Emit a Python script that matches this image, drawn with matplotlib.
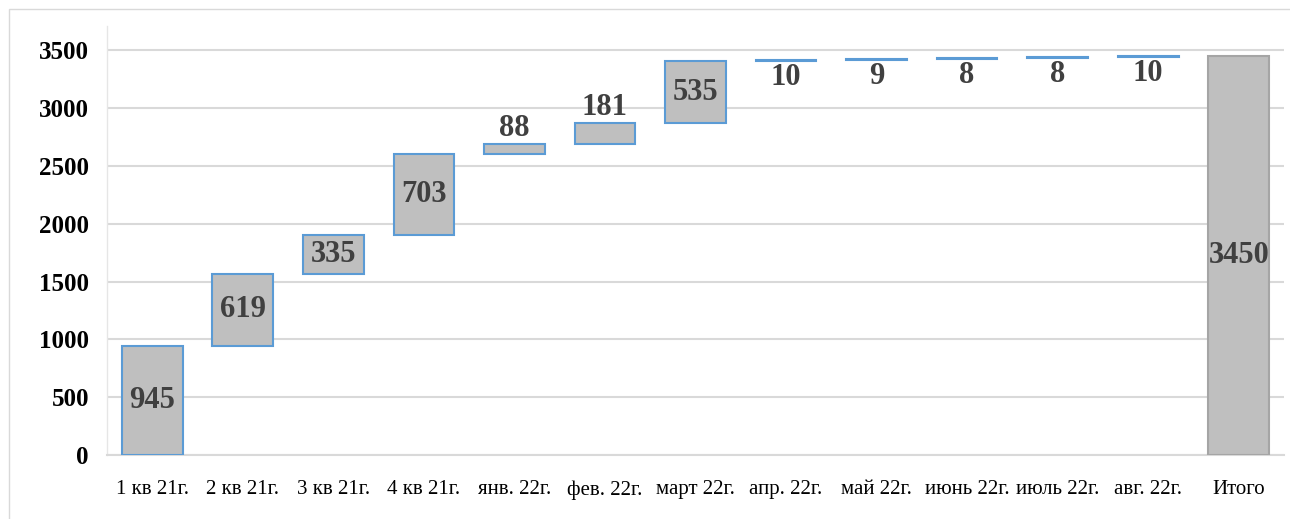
import numpy as np
import matplotlib.pyplot as plt
from matplotlib.patches import Rectangle

plt.rcParams['font.family'] = ['Liberation Serif', 'DejaVu Serif']

categories = ['1 кв 21г.', '2 кв 21г.', '3 кв 21г.', '4 кв 21г.', 'янв. 22г.', 'фев. 22г.',
              'март 22г.', 'апр. 22г.', 'май 22г.', 'июнь 22г.', 'июль 22г.', 'авг. 22г.', 'Итого']
increments = [945, 619, 335, 703, 88, 181, 535, 10, 9, 8, 8, 10]
total = 3450
# where the value label sits: inside, above or below the bar
label_pos = ['in', 'in', 'in', 'in', 'above', 'above', 'in', 'below', 'below', 'below', 'below', 'below']

fig = plt.figure(figsize=(12.9, 5.19), dpi=100)
ax = fig.add_axes([107 / 1290, 64 / 519, (1284 - 107) / 1290, (493 - 64) / 519])

# outer chart frame
fig.patches.append(Rectangle((9 / 1290, -0.01), 1.0, 510 / 519 + 0.01, transform=fig.transFigure,
                             fill=False, edgecolor='#D9D9D9', linewidth=1))

x = np.arange(len(categories))
bottoms = np.concatenate([[0], np.cumsum(increments)[:-1]])
w = 0.67

ax.bar(x[:-1], increments, bottom=bottoms, width=w, color='#BFBFBF', edgecolor='#5B9BD5',
       linewidth=1.5, zorder=3)
ax.bar(x[-1], total, width=w, color='#BFBFBF', edgecolor='#A5A5A5', linewidth=1.5, zorder=3)

lab_kw = dict(ha='center', va='center', fontsize=22, fontweight='bold', color='#404040', zorder=4)
for i, (v, b, p) in enumerate(zip(increments, bottoms, label_pos)):
    if p == 'in':
        ax.text(i, b + v / 2, str(v), **lab_kw)
    elif p == 'above':
        ax.annotate(str(v), (i, b + v), xytext=(0, 11), textcoords='offset points', **lab_kw)
    else:
        ax.annotate(str(v), (i, b), xytext=(0, -12), textcoords='offset points', **lab_kw)
ax.text(x[-1], total / 2, str(total), **lab_kw)

ax.set_xlim(-0.5, len(categories) - 0.5)
ax.set_ylim(0, 3710)
ax.set_yticks(np.arange(0, 3501, 500))
ax.yaxis.grid(True, color='#D9D9D9', linewidth=1.5, zorder=0)
ax.set_axisbelow(True)

ax.set_xticks(x)
ax.set_xticklabels(categories, fontsize=15)
for t in ax.get_yticklabels():
    t.set_fontsize(18)
    t.set_fontweight('bold')
ax.tick_params(axis='both', length=0)
ax.tick_params(axis='x', pad=18)
ax.tick_params(axis='y', pad=13)

for s in ['top', 'right']:
    ax.spines[s].set_visible(False)
ax.spines['bottom'].set_color('#D9D9D9')
ax.spines['bottom'].set_linewidth(1.5)
ax.spines['left'].set_color('#E6E6E6')
ax.spines['left'].set_linewidth(1)

fig.savefig('out.png', dpi=100)
